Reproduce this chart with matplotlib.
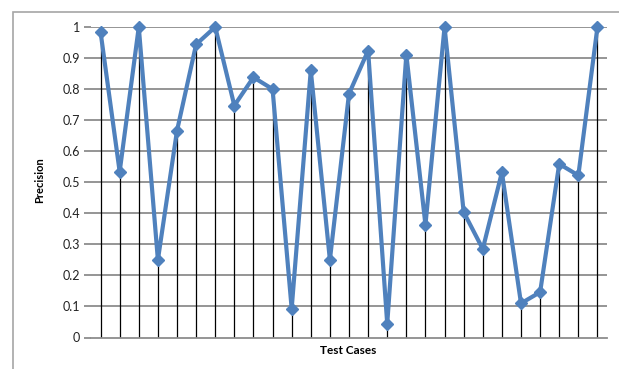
import matplotlib
matplotlib.use('Agg')
import matplotlib.pyplot as plt
from matplotlib.patches import Rectangle

# precision per test case
cases = list(range(1, 28))
precision = [0.984, 0.534, 1.0, 0.25, 0.666, 0.944, 1.0, 0.747, 0.838, 0.80,
             0.093, 0.86, 0.25, 0.785, 0.924, 0.044, 0.911, 0.363, 1.0, 0.404,
             0.285, 0.532, 0.11, 0.146, 0.559, 0.522, 1.0]
yticks = [0, 0.1, 0.2, 0.3, 0.4, 0.5, 0.6, 0.7, 0.8, 0.9, 1]
ytick_labels = ['0', '0.1', '0.2', '0.3', '0.4', '0.5', '0.6', '0.7', '0.8', '0.9', '1']

plt.rcParams['font.family'] = ['Lato', 'DejaVu Sans']

W, H = 619, 369
fig = plt.figure(figsize=(W / 100, H / 100), dpi=100)

# chart-area border (cropped on right and bottom like the original)
fig.patches.append(Rectangle((13 / W, -0.1), 1.2, 1 - 12 / H + 0.1,
                             transform=fig.transFigure, fill=False,
                             edgecolor='#a6a6a6', linewidth=1.2))

x0, x1 = 91, 607
y_top, y_bot = 27, 337.5
ax = fig.add_axes([x0 / W, 1 - y_bot / H, (x1 - x0) / W, (y_bot - y_top) / H])

ax.set_xlim(0.5, len(cases) + 0.5)
ax.set_ylim(0, 1)

# horizontal gridlines
for v in yticks[1:]:
    ax.axhline(v, color='#8c8c8c', linewidth=1.3, zorder=1)

# drop lines
ax.vlines(cases, 0, precision, color='black', linewidth=0.9, zorder=2)

ax.plot(cases, precision, color='#4f81bd', linewidth=3.0, marker='D',
        markersize=6, markerfacecolor='#4f81bd', markeredgecolor='#4f81bd',
        zorder=3, clip_on=False)

for s in ['top', 'right', 'left']:
    ax.spines[s].set_visible(False)
ax.spines['bottom'].set_color('#8c8c8c')
ax.spines['bottom'].set_linewidth(1.3)

ax.set_xticks([])
ax.set_yticks(yticks)
ax.set_yticklabels(ytick_labels, fontsize=9, color='#222222')
ax.tick_params(axis='y', length=5, width=1.3, color='#8c8c8c', pad=3)

fig.text(40 / W, 1 - 180 / H, 'Precision', rotation=90, fontsize=8,
         fontweight='bold', ha='center', va='center')
fig.text(348 / W, 1 - 350 / H, 'Test Cases', fontsize=8.5,
         fontweight='bold', ha='center', va='center')

fig.savefig('out.png', dpi=100)
plt.close(fig)
